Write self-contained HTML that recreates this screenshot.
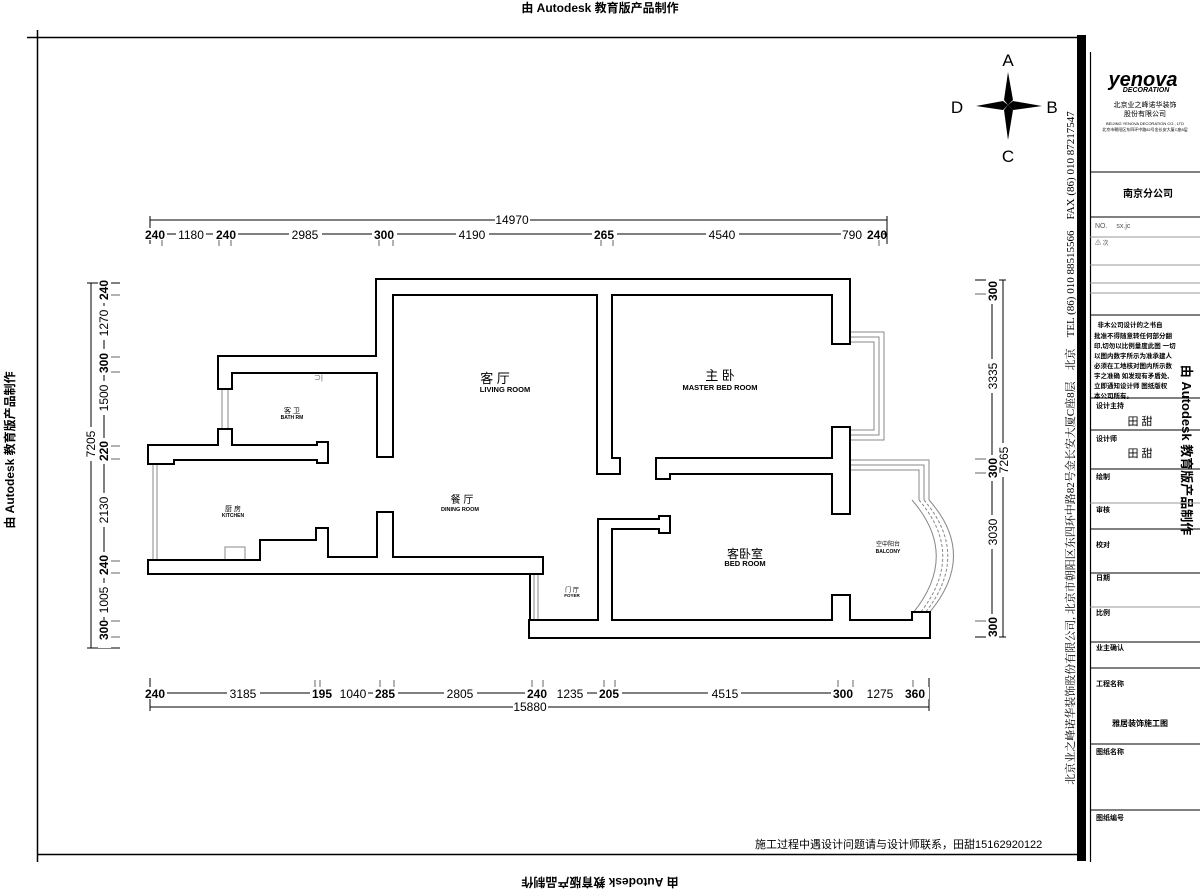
<!DOCTYPE html>
<html><head><meta charset="utf-8">
<style>
html,body{margin:0;padding:0;background:#fff;}
svg{display:block;font-family:"Liberation Sans","Noto Sans CJK SC",sans-serif;}
.d{font-size:12px;fill:#000;}
.b{font-weight:bold;}
</style></head><body>
<svg width="1200" height="890" viewBox="0 0 1200 890" xmlns="http://www.w3.org/2000/svg">
<rect width="1200" height="890" fill="#fff"/>
<!-- watermarks -->
<text x="600" y="12" text-anchor="middle" font-size="12" font-weight="bold">由 Autodesk 教育版产品制作</text>
<text transform="translate(600,878) rotate(180)" text-anchor="middle" font-size="12" font-weight="bold">由 Autodesk 教育版产品制作</text>
<text transform="translate(14,450) rotate(-90)" text-anchor="middle" font-size="12" font-weight="bold">由 Autodesk 教育版产品制作</text>
<text transform="translate(1182,450) rotate(90)" text-anchor="middle" font-size="13" font-weight="bold">由 Autodesk 教育版产品制作</text>
<!-- frame -->
<line x1="27" y1="37.5" x2="1077" y2="37.5" stroke="#000" stroke-width="1.5"/>
<line x1="37.5" y1="30" x2="37.5" y2="862" stroke="#000" stroke-width="1.5"/>
<line x1="37" y1="854.5" x2="1077" y2="854.5" stroke="#000" stroke-width="1.5"/>
<rect x="1077" y="35" width="9" height="826" fill="#000"/>
<line x1="1090.5" y1="52" x2="1090.5" y2="862" stroke="#000" stroke-width="1.2"/>
<!-- vertical company text -->
<text transform="translate(1074,448) rotate(-90)" text-anchor="middle" font-size="11" font-family="Liberation Serif,'Noto Serif CJK SC',serif">北京业之峰诺华装饰股份有限公司, 北京市朝阳区东四环中路82号金长安大厦C座8层　北京　TEL (86) 010 88515566　FAX (86) 010 87217547</text>
<!-- title block -->
<g stroke="#000" stroke-width="1">
<line x1="1090" y1="172" x2="1200" y2="172"/>
<line x1="1090" y1="217" x2="1200" y2="217"/>
<line x1="1090" y1="237" x2="1200" y2="237" stroke="#999"/>
<line x1="1090" y1="265" x2="1200" y2="265" stroke="#999"/>
<line x1="1090" y1="283" x2="1200" y2="283" stroke="#999"/>
<line x1="1090" y1="293" x2="1200" y2="293" stroke="#999"/>
<line x1="1090" y1="315" x2="1200" y2="315"/>
<line x1="1090" y1="398" x2="1200" y2="398"/>
<line x1="1090" y1="430" x2="1200" y2="430"/>
<line x1="1090" y1="469" x2="1200" y2="469"/>
<line x1="1090" y1="503" x2="1200" y2="503" stroke="#999"/>
<line x1="1090" y1="529" x2="1200" y2="529"/>
<line x1="1090" y1="573" x2="1200" y2="573"/>
<line x1="1090" y1="607" x2="1200" y2="607" stroke="#999"/>
<line x1="1090" y1="642" x2="1200" y2="642"/>
<line x1="1090" y1="668" x2="1200" y2="668"/>
<line x1="1090" y1="744" x2="1200" y2="744"/>
<line x1="1090" y1="810" x2="1200" y2="810"/>
</g>
<text x="1143" y="86" text-anchor="middle" font-size="20" font-weight="bold" font-style="italic">yenova</text>
<text x="1146" y="92" text-anchor="middle" font-size="7" font-weight="bold" font-style="italic">DECORATION</text>
<text x="1145" y="107" text-anchor="middle" font-size="7">北京业之峰诺华装饰</text>
<text x="1145" y="116" text-anchor="middle" font-size="7">股份有限公司</text>
<text x="1145" y="125" text-anchor="middle" font-size="4">BEIJING YENOVA DECORATION CO., LTD</text>
<text x="1145" y="131" text-anchor="middle" font-size="4">北京市朝阳区东四环中路82号金长安大厦C座8层</text>
<text x="1148" y="197" text-anchor="middle" font-size="10" font-weight="bold">南京分公司</text>
<text x="1095" y="228" font-size="7" fill="#555">NO.　 sx.jc</text>
<text x="1095" y="245" font-size="6" fill="#555">⚠ 次</text>
<g font-size="6.5" font-weight="bold">
<text x="1130" y="327" text-anchor="middle">非木公司设计的之书自</text>
<text x="1094" y="338">批准不得随意转任何部分翻</text>
<text x="1094" y="348">印,切勿以比例量度此图 一切</text>
<text x="1094" y="358">以图内数字所示为准承建人</text>
<text x="1094" y="368">必须在工地核对图内所示数</text>
<text x="1094" y="378">字之准确 如发现有矛盾处,</text>
<text x="1094" y="388">立即通知设计师 图纸版权</text>
<text x="1094" y="398">本公司所有。</text>
</g>
<g font-size="7" font-weight="bold">
<text x="1096" y="408">设计主持</text>
<text x="1096" y="441">设计师</text>
<text x="1096" y="479">绘制</text>
<text x="1096" y="512">审核</text>
<text x="1096" y="547">校对</text>
<text x="1096" y="580">日期</text>
<text x="1096" y="615">比例</text>
<text x="1096" y="650">业主确认</text>
<text x="1096" y="686">工程名称</text>
<text x="1096" y="754">图纸名称</text>
<text x="1096" y="820">图纸编号</text>
</g>
<text x="1140" y="425" text-anchor="middle" font-size="11">田 甜</text>
<text x="1140" y="457" text-anchor="middle" font-size="11">田 甜</text>
<text x="1140" y="726" text-anchor="middle" font-size="8" font-weight="bold">雅居装饰施工图</text>
<!-- bottom note -->
<text x="755" y="848" font-size="11">施工过程中遇设计问题请与设计师联系，田甜15162920122</text>
<!-- compass -->
<g fill="#000">
<polygon points="1008,72 1013,100 1008,105 1004,100"/>
<polygon points="1008,105 1013,110 1008,140 1004,110"/>
<polygon points="976,106 1003,101 1008,105 1003,110"/>
<polygon points="1008,105 1013,101 1042,106 1013,110"/>
</g>
<text x="1008" y="66" text-anchor="middle" font-size="17">A</text>
<text x="1052" y="113" text-anchor="middle" font-size="17">B</text>
<text x="957" y="113" text-anchor="middle" font-size="17">D</text>
<text x="1008" y="162" text-anchor="middle" font-size="17">C</text>

<!-- top dims -->
<g stroke="#000" stroke-width="1">
<line x1="150" y1="220" x2="887" y2="220"/>
<line x1="150" y1="234" x2="887" y2="234"/>
<line x1="150" y1="216" x2="150" y2="244"/>
<line x1="887" y1="216" x2="887" y2="244"/>
<g stroke="#666"><line x1="162" y1="230" x2="162" y2="246"/><line x1="219" y1="230" x2="219" y2="246"/><line x1="231" y1="230" x2="231" y2="246"/><line x1="379" y1="230" x2="379" y2="246"/><line x1="393" y1="230" x2="393" y2="246"/><line x1="601" y1="230" x2="601" y2="246"/><line x1="613" y1="230" x2="613" y2="246"/><line x1="879" y1="230" x2="879" y2="246"/></g>
</g>
<g class="d" text-anchor="middle">
<rect x="495" y="213" width="35" height="10" fill="#fff"/>
<text x="512" y="224">14970</text>
<g fill="#fff"><rect x="142" y="228" width="25" height="12"/><rect x="176" y="228" width="30" height="12"/><rect x="213" y="228" width="25" height="12"/><rect x="289" y="228" width="33" height="12"/><rect x="372" y="228" width="25" height="12"/><rect x="456" y="228" width="33" height="12"/><rect x="592" y="228" width="25" height="12"/><rect x="706" y="228" width="33" height="12"/><rect x="841" y="228" width="42" height="12"/></g>
<text x="155" y="239" class="b">240</text><text x="191" y="239">1180</text><text x="226" y="239" class="b">240</text><text x="305" y="239">2985</text><text x="384" y="239" class="b">300</text><text x="472" y="239">4190</text><text x="604" y="239" class="b">265</text><text x="722" y="239">4540</text><text x="852" y="239">790</text><text x="877" y="239" class="b">240</text>
</g>
<!-- bottom dims -->
<g stroke="#000" stroke-width="1">
<line x1="150" y1="693" x2="929" y2="693"/>
<line x1="150" y1="707" x2="929" y2="707"/>
<line x1="150" y1="678" x2="150" y2="711"/>
<line x1="929" y1="678" x2="929" y2="711"/>
<g stroke="#666"><line x1="315" y1="680" x2="315" y2="697"/><line x1="320" y1="680" x2="320" y2="697"/><line x1="380" y1="680" x2="380" y2="697"/><line x1="394" y1="680" x2="394" y2="697"/><line x1="532" y1="680" x2="532" y2="697"/><line x1="543" y1="680" x2="543" y2="697"/><line x1="604" y1="680" x2="604" y2="697"/><line x1="615" y1="680" x2="615" y2="697"/><line x1="838" y1="680" x2="838" y2="697"/><line x1="853" y1="680" x2="853" y2="697"/><line x1="913" y1="680" x2="913" y2="697"/></g>
</g>
<g class="d" text-anchor="middle">
<g fill="#fff"><rect x="143" y="687" width="24" height="12"/><rect x="227" y="687" width="33" height="12"/><rect x="310" y="687" width="58" height="12"/><rect x="373" y="687" width="25" height="12"/><rect x="444" y="687" width="33" height="12"/><rect x="525" y="687" width="62" height="12"/><rect x="597" y="687" width="25" height="12"/><rect x="708" y="687" width="33" height="12"/><rect x="831" y="687" width="98" height="12"/><rect x="513" y="701" width="35" height="12"/></g>
<text x="155" y="698" class="b">240</text><text x="243" y="698">3185</text><text x="322" y="698" class="b">195</text><text x="353" y="698">1040</text><text x="385" y="698" class="b">285</text><text x="460" y="698">2805</text><text x="537" y="698" class="b">240</text><text x="570" y="698">1235</text><text x="609" y="698" class="b">205</text><text x="725" y="698">4515</text><text x="843" y="698" class="b">300</text><text x="880" y="698">1275</text><text x="915" y="698" class="b">360</text>
<text x="530" y="711">15880</text>
</g>
<!-- left dims -->
<g stroke="#000" stroke-width="1">
<line x1="91" y1="283" x2="91" y2="648"/>
<line x1="104" y1="283" x2="104" y2="648"/>
<line x1="87" y1="283" x2="120" y2="283"/>
<line x1="87" y1="648" x2="120" y2="648"/>
<g stroke="#666"><line x1="100" y1="295" x2="120" y2="295"/><line x1="100" y1="357" x2="120" y2="357"/><line x1="100" y1="372" x2="120" y2="372"/><line x1="100" y1="446" x2="120" y2="446"/><line x1="100" y1="459" x2="120" y2="459"/><line x1="100" y1="561" x2="120" y2="561"/><line x1="100" y1="573" x2="120" y2="573"/><line x1="100" y1="621" x2="120" y2="621"/><line x1="100" y1="637" x2="120" y2="637"/></g>
</g>
<g class="d" text-anchor="middle">
<g fill="#fff"><rect x="98" y="277" width="13" height="26"/><rect x="98" y="306" width="13" height="34"/><rect x="98" y="349" width="13" height="26"/><rect x="98" y="381" width="13" height="34"/><rect x="98" y="438" width="13" height="26"/><rect x="98" y="493" width="13" height="34"/><rect x="98" y="552" width="13" height="26"/><rect x="98" y="583" width="13" height="34"/><rect x="98" y="620" width="13" height="28"/><rect x="85" y="427" width="13" height="34"/></g>
<text transform="translate(108,290) rotate(-90)" class="b">240</text>
<text transform="translate(108,323) rotate(-90)">1270</text>
<text transform="translate(108,363) rotate(-90)" class="b">300</text>
<text transform="translate(108,398) rotate(-90)">1500</text>
<text transform="translate(108,451) rotate(-90)" class="b">220</text>
<text transform="translate(108,510) rotate(-90)">2130</text>
<text transform="translate(108,565) rotate(-90)" class="b">240</text>
<text transform="translate(108,600) rotate(-90)">1005</text>
<text transform="translate(108,630) rotate(-90)" class="b">300</text>
<text transform="translate(95,444) rotate(-90)">7205</text>
</g>
<!-- right dims -->
<g stroke="#000" stroke-width="1">
<line x1="992" y1="280" x2="992" y2="637"/>
<line x1="1003" y1="280" x2="1003" y2="637"/>
<line x1="975" y1="280" x2="1006" y2="280"/>
<line x1="975" y1="637" x2="1006" y2="637"/>
<g stroke="#666"><line x1="975" y1="294" x2="995" y2="294"/><line x1="975" y1="459" x2="995" y2="459"/><line x1="975" y1="473" x2="995" y2="473"/><line x1="975" y1="621" x2="995" y2="621"/></g>
</g>
<g class="d" text-anchor="middle">
<g fill="#fff"><rect x="986" y="278" width="13" height="26"/><rect x="986" y="359" width="13" height="34"/><rect x="986" y="455" width="13" height="26"/><rect x="986" y="515" width="13" height="34"/><rect x="986" y="614" width="13" height="26"/><rect x="997" y="443" width="13" height="34"/></g>
<text transform="translate(997,291) rotate(-90)" class="b">300</text>
<text transform="translate(997,376) rotate(-90)">3335</text>
<text transform="translate(997,468) rotate(-90)" class="b">300</text>
<text transform="translate(997,532) rotate(-90)">3030</text>
<text transform="translate(997,627) rotate(-90)" class="b">300</text>
<text transform="translate(1008,460) rotate(-90)">7265</text>
</g>

<!-- windows / thin lines -->
<g fill="none" stroke="#888" stroke-width="1">
<line x1="153" y1="463" x2="153" y2="561"/><line x1="157" y1="463" x2="157" y2="561"/>
<line x1="222" y1="388" x2="222" y2="430"/><line x1="228" y1="388" x2="228" y2="430"/>
<line x1="534" y1="573" x2="534" y2="621"/><line x1="538" y1="573" x2="538" y2="621"/>
<polyline points="849,332 884,332 884,440 849,440"/>
<polyline points="849,337 879,337 879,435 849,435"/>
<polyline points="849,342 874,342 874,430 849,430"/>
<polyline points="849,460 929,460 929,500"/>
<polyline points="849,465 924,465 924,500"/>
<polyline points="849,470 919,470 919,500"/>
<path d="M912,500 Q960,555 913,613"/>
<path d="M919,500 Q966,555 920,613" stroke-dasharray="3,2"/>
<path d="M924,500 Q971,555 925,613" stroke-dasharray="3,2"/>
<path d="M929,500 Q978,555 929,613"/>
<rect x="225" y="547" width="20" height="14"/>
</g>
<text x="314" y="380" font-size="7" fill="#555">⊃|</text>

<!-- walls: stroke pass -->
<g id="w" stroke="#000" stroke-width="4" fill="#000">
<rect x="377" y="280" width="472" height="14"/>
<rect x="833" y="280" width="16" height="63"/>
<rect x="833" y="428" width="16" height="85"/>
<rect x="657" y="459" width="192" height="14"/>
<rect x="657" y="473" width="12" height="5"/>
<rect x="598" y="294" width="13" height="179"/>
<rect x="611" y="459" width="8" height="14"/>
<rect x="377" y="280" width="15" height="77"/>
<rect x="219" y="357" width="173" height="15"/>
<rect x="378" y="357" width="14" height="99"/>
<rect x="219" y="357" width="12" height="31"/>
<rect x="219" y="430" width="12" height="29"/>
<rect x="149" y="446" width="169" height="13"/>
<rect x="318" y="443" width="9" height="19"/>
<rect x="149" y="446" width="12" height="17"/>
<rect x="161" y="459" width="12" height="4"/>
<rect x="149" y="561" width="393" height="12"/>
<rect x="261" y="541" width="56" height="32"/>
<rect x="317" y="529" width="10" height="44"/>
<rect x="378" y="513" width="14" height="60"/>
<rect x="327" y="558" width="215" height="15"/>
<rect x="530" y="621" width="12" height="16"/>
<rect x="530" y="621" width="399" height="16"/>
<rect x="913" y="613" width="16" height="24"/>
<rect x="599" y="520" width="12" height="101"/>
<rect x="599" y="520" width="70" height="8"/>
<rect x="660" y="517" width="9" height="15"/>
<rect x="833" y="596" width="16" height="25"/>
</g>
<!-- walls: fill pass -->
<g stroke="none" fill="#fff">
<rect x="377" y="280" width="472" height="14"/>
<rect x="833" y="280" width="16" height="63"/>
<rect x="833" y="428" width="16" height="85"/>
<rect x="657" y="459" width="192" height="14"/>
<rect x="657" y="473" width="12" height="5"/>
<rect x="598" y="294" width="13" height="179"/>
<rect x="611" y="459" width="8" height="14"/>
<rect x="377" y="280" width="15" height="77"/>
<rect x="219" y="357" width="173" height="15"/>
<rect x="378" y="357" width="14" height="99"/>
<rect x="219" y="357" width="12" height="31"/>
<rect x="219" y="430" width="12" height="29"/>
<rect x="149" y="446" width="169" height="13"/>
<rect x="318" y="443" width="9" height="19"/>
<rect x="149" y="446" width="12" height="17"/>
<rect x="161" y="459" width="12" height="4"/>
<rect x="149" y="561" width="393" height="12"/>
<rect x="261" y="541" width="56" height="32"/>
<rect x="317" y="529" width="10" height="44"/>
<rect x="378" y="513" width="14" height="60"/>
<rect x="327" y="558" width="215" height="15"/>
<rect x="530" y="621" width="12" height="16"/>
<rect x="530" y="621" width="399" height="16"/>
<rect x="913" y="613" width="16" height="24"/>
<rect x="599" y="520" width="12" height="101"/>
<rect x="599" y="520" width="70" height="8"/>
<rect x="660" y="517" width="9" height="15"/>
<rect x="833" y="596" width="16" height="25"/>
</g>
<!-- foyer door edge -->
<line x1="530" y1="573" x2="530" y2="621" stroke="#000" stroke-width="2"/>

<!-- room labels -->
<g text-anchor="middle">
<text x="495" y="383" font-size="13">客 厅</text>
<text x="505" y="392" font-size="7.5" font-weight="bold">LIVING ROOM</text>
<text x="720" y="380" font-size="13">主 卧</text>
<text x="720" y="390" font-size="7.5" font-weight="bold">MASTER BED ROOM</text>
<text x="745" y="558" font-size="12">客卧室</text>
<text x="745" y="566" font-size="7.5" font-weight="bold">BED ROOM</text>
<text x="462" y="503" font-size="10">餐 厅</text>
<text x="460" y="511" font-size="5.5" font-weight="bold">DINING ROOM</text>
<text x="233" y="511" font-size="7">厨 房</text>
<text x="233" y="517" font-size="5" font-weight="bold">KITCHEN</text>
<text x="292" y="413" font-size="7">客 卫</text>
<text x="292" y="419" font-size="5" font-weight="bold">BATH RM</text>
<text x="572" y="592" font-size="6">门 厅</text>
<text x="572" y="597" font-size="4.5" font-weight="bold">FOYER</text>
<text x="888" y="546" font-size="6">空中阳台</text>
<text x="888" y="553" font-size="5" font-weight="bold">BALCONY</text>
</g>
</svg>
</body></html>
